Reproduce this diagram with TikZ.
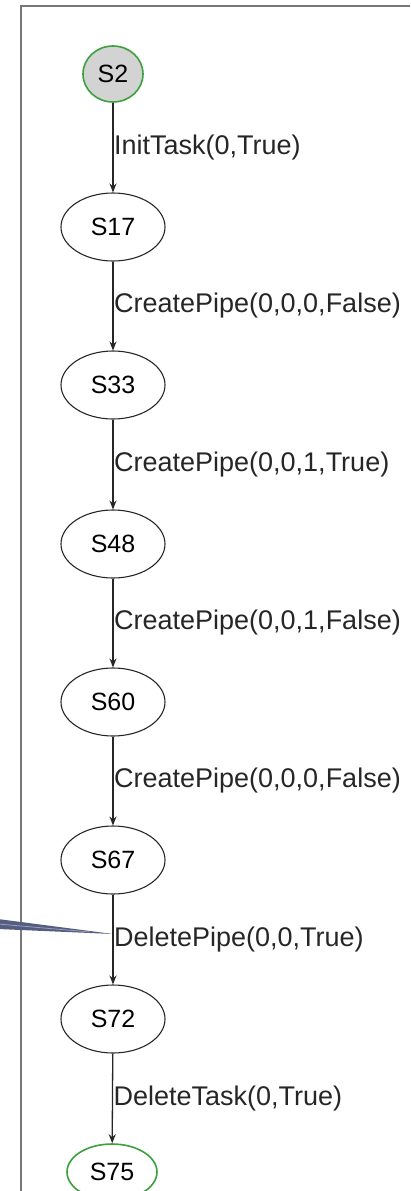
\documentclass[tikz,border=0pt]{standalone}
\usepackage{fontspec}
\setmainfont{Liberation Sans}
\usetikzlibrary{shapes.geometric,arrows.meta}
\definecolor{frame}{RGB}{120,120,120}
\definecolor{startfill}{RGB}{211,211,211}
\definecolor{okgreen}{RGB}{60,160,60}
\definecolor{pointer}{RGB}{84,94,130}
\tikzset{
  state/.style={ellipse, draw=black!85, line width=1.1pt, minimum width=104pt, minimum height=68pt,
    inner sep=0pt, font=\fontsize{25}{25}\selectfont},
  trans/.style={draw=black!85, line width=1.3pt, -{Stealth[length=9pt,width=7pt]}},
  lbl/.style={anchor=west, inner sep=0pt, xshift=0.5pt, font=\fontsize{27}{27}\selectfont, text=black!85}
}
\begin{document}
\begin{tikzpicture}[x=1pt,y=-1pt]
\useasboundingbox (0,0) rectangle (410,1191);
\clip (0,0) rectangle (410,1191);
% outer frame
\draw[frame, line width=2.2pt] (21,1195) -- (21,6) -- (415,6);
% callout pointer coming in from the left
\fill[pointer] (-2,919) -- (-2,929) -- (113,934) -- cycle;
\draw[pointer!60!white, line width=0.8pt] (-2,924) -- (90,932);
% states
\node[state, minimum width=60pt, minimum height=56pt, fill=startfill, draw=okgreen, line width=1.6pt] (s2) at (113,74) {S2};
\node[state] (s17) at (113,227) {S17};
\node[state] (s33) at (113,385) {S33};
\node[state] (s48) at (113,544) {S48};
\node[state] (s60) at (113,702) {S60};
\node[state] (s67) at (113,860) {S67};
\node[state] (s72) at (113,1019) {S72};
\node[state, minimum width=90pt, minimum height=56pt, draw=okgreen, line width=1.6pt] (s75) at (112,1172) {S75};
% transitions
\draw[trans] (s2) -- node[lbl] {InitTask(0,True)} (s17);
\draw[trans] (s17) -- node[lbl] {CreatePipe(0,0,0,False)} (s33);
\draw[trans] (s33) -- node[lbl] {CreatePipe(0,0,1,True)} (s48);
\draw[trans] (s48) -- node[lbl] {CreatePipe(0,0,1,False)} (s60);
\draw[trans] (s60) -- node[lbl] {CreatePipe(0,0,0,False)} (s67);
\draw[trans] (s67) -- node[lbl] {DeletePipe(0,0,True)} (s72);
\draw[trans] (s72) -- node[lbl] {DeleteTask(0,True)} (s75);
\end{tikzpicture}
\end{document}
